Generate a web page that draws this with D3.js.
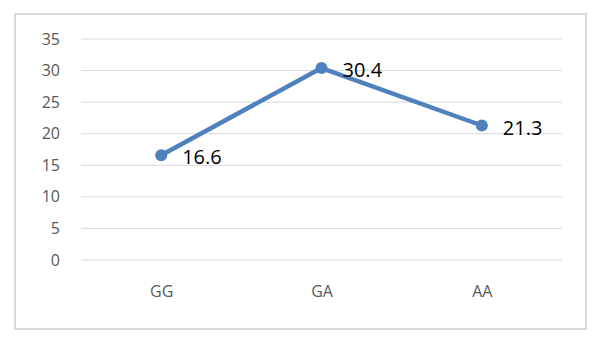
<!DOCTYPE html>
<html>
<head>
<meta charset="utf-8">
<script src="https://cdn.jsdelivr.net/npm/d3@7"></script>
<style>
  body { margin: 0; background: #fff; }
  text { font-family: "Open Sans", sans-serif; }
</style>
</head>
<body>
<div id="container"></div>
<script>
// data
let categories = ["GG", "GA", "AA"];
let values = [16.6, 30.4, 21.3];
let yTicks = [0, 5, 10, 15, 20, 25, 30, 35];

let w = 604;
let h = 351;

let viz = d3.select("#container")
  .append("svg")
    .attr("width", w)
    .attr("height", h)
;

// outer chart border
viz.append("rect")
    .attr("x", 15)
    .attr("y", 14)
    .attr("width", 571)
    .attr("height", 315)
    .attr("fill", "none")
    .attr("stroke", "#d9d9d9")
    .attr("stroke-width", 2)
;

let xScale = d3.scalePoint().domain(categories).range([81, 562]).padding(0.5);
let yScale = d3.scaleLinear().domain([0, 35]).range([260, 39]);

// gridlines
viz.append("g")
  .selectAll("line")
  .data(yTicks)
  .join("line")
    .attr("x1", 81)
    .attr("x2", 562)
    .attr("y1", d => yScale(d))
    .attr("y2", d => yScale(d))
    .attr("stroke", "#d9d9d9")
    .attr("stroke-width", 1)
;

// y axis labels
let yAxis = d3.axisLeft(yScale).tickValues(yTicks).tickSize(0).tickPadding(0);
let yAxisGroup = viz.append("g")
    .attr("transform", "translate(60,0)")
    .attr("font-size", null)
    .call(yAxis);
yAxisGroup.select(".domain").remove();
yAxisGroup.selectAll("text")
    .attr("fill", "#595959")
    .attr("font-size", 16)
    .attr("font-family", "'Open Sans', sans-serif");

// x axis labels
let xAxis = d3.axisBottom(xScale).tickSize(0).tickPadding(0);
let xAxisGroup = viz.append("g")
    .attr("transform", "translate(0,286)")
    .call(xAxis);
xAxisGroup.select(".domain").remove();
xAxisGroup.selectAll("text")
    .attr("fill", "#595959")
    .attr("font-size", 16)
    .attr("font-family", "'Open Sans', sans-serif");

let points = categories.map((c, i) => ({ cat: c, val: values[i] }));

let lineMaker = d3.line()
  .x(d => xScale(d.cat))
  .y(d => yScale(d.val));

viz.append("path")
    .datum(points)
    .attr("d", lineMaker)
    .attr("fill", "none")
    .attr("stroke", "#4f81bd")
    .attr("stroke-width", 4.5)
    .attr("stroke-linejoin", "round")
;

viz.selectAll(".dot")
  .data(points)
  .join("circle")
    .attr("class", "dot")
    .attr("cx", d => xScale(d.cat))
    .attr("cy", d => yScale(d.val))
    .attr("r", 6)
    .attr("fill", "#4f81bd")
;

// data labels
viz.selectAll(".lbl")
  .data(points)
  .join("text")
    .attr("class", "lbl")
    .attr("x", d => xScale(d.cat) + 21)
    .attr("y", d => yScale(d.val) + 9)
    .attr("fill", "#000")
    .attr("font-size", 20)
    .text(d => d.val.toFixed(1))
;
</script>
</body>
</html>
